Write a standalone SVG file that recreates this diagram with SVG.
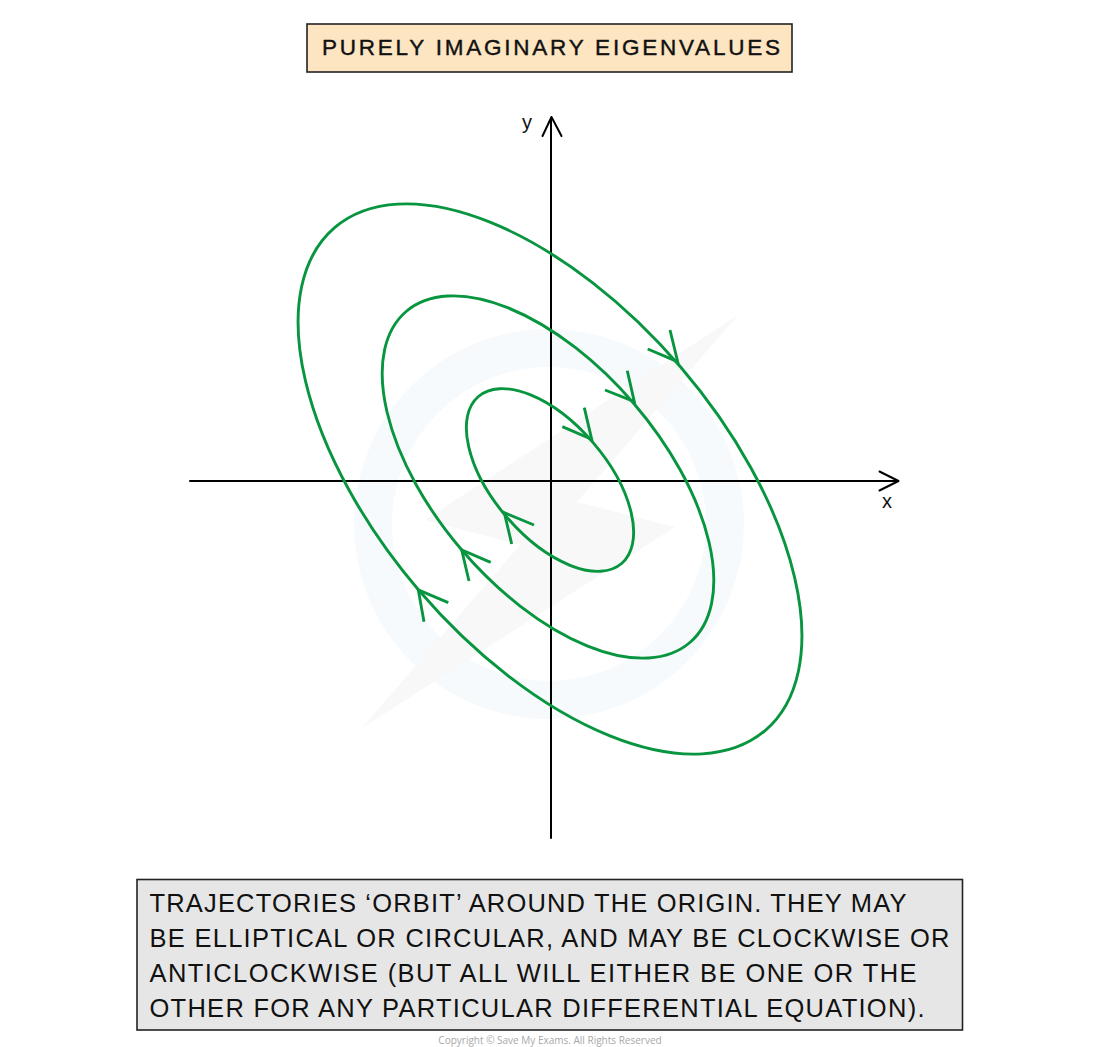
<svg xmlns="http://www.w3.org/2000/svg" width="1100" height="1047" viewBox="0 0 1100 1047">
  <style>
    .txt { font-family: "Liberation Sans", Arial, sans-serif; fill: #111; }
    .axis { stroke: #000; stroke-width: 2; fill: none; stroke-linecap: round; stroke-linejoin: round; }
    .orbit { stroke: #08953f; stroke-width: 2.9; fill: none; }
    .head { stroke: #08953f; stroke-width: 2.9; fill: none; stroke-linecap: butt; stroke-linejoin: miter; }
    .box { stroke: #222; stroke-width: 1.6; }
  </style>
  <rect x="0" y="0" width="1100" height="1047" fill="#ffffff"/>

  <g id="watermark">
    <circle cx="549" cy="524" r="176" fill="none" stroke="#f6fafc" stroke-width="38"/>
    <polygon points="738,315 425,520 520,545 362,728 675,527 577,502" fill="#f8f8f8"/>
  </g>

  <g id="title">
    <rect class="box" x="307" y="24" width="485" height="48" fill="#fde5c2"/>
    <text class="txt" x="322" y="54.5" font-size="22.5" stroke="#111" stroke-width="0.4" textLength="458" lengthAdjust="spacing">PURELY IMAGINARY EIGENVALUES</text>
  </g>

  <g id="axes">
    <line class="axis" x1="190" y1="481" x2="898" y2="481"/>
    <polyline class="axis" points="879.5,471.5 898.5,481 879.5,490.5"/>
    <line class="axis" x1="551" y1="838" x2="551" y2="118"/>
    <polyline class="axis" points="542.5,136 551.5,117 561.5,136"/>
    <text class="txt" x="522" y="129" font-size="20">y</text>
    <text class="txt" x="882" y="507.5" font-size="20">x</text>
  </g>

  <g id="orbit-outer">
    <ellipse class="orbit" cx="550" cy="479" rx="331" ry="172" transform="rotate(49.4 550 479)"/>
  </g>
  <g id="orbit-middle">
    <ellipse class="orbit" cx="548" cy="477" rx="218" ry="113" transform="rotate(49.4 548 477)"/>
  </g>
  <g id="orbit-inner">
    <ellipse class="orbit" cx="550" cy="480" rx="110" ry="57" transform="rotate(49.4 550 480)"/>
  </g>

  <g id="connectors">
    <polyline class="head" points="670,330 677.7,361.7 647.7,349"/>
    <polyline class="head" points="627.3,370.7 634.3,401.7 605,390"/>
    <polyline class="head" points="584.3,407.7 591.7,439.3 562.3,426.7"/>
    <polyline class="head" points="534,525 504.3,512.7 511.7,544"/>
    <polyline class="head" points="490.7,562.3 461.7,550 469,581"/>
    <polyline class="head" points="448.3,602.7 418.3,590 424,621.7"/>
  </g>

  <g id="caption">
    <rect class="box" x="137" y="879.5" width="825.5" height="150.5" fill="#e6e6e6"/>
    <text class="txt" x="149.5" y="912" font-size="25.5" textLength="757" lengthAdjust="spacing">TRAJECTORIES ‘ORBIT’ AROUND THE ORIGIN. THEY MAY</text>
    <text class="txt" x="149.5" y="947" font-size="25.5" textLength="800" lengthAdjust="spacing">BE ELLIPTICAL OR CIRCULAR, AND MAY BE CLOCKWISE OR</text>
    <text class="txt" x="149.5" y="982" font-size="25.5" textLength="767" lengthAdjust="spacing">ANTICLOCKWISE (BUT ALL WILL EITHER BE ONE OR THE</text>
    <text class="txt" x="149.5" y="1017" font-size="25.5" textLength="775" lengthAdjust="spacing">OTHER FOR ANY PARTICULAR DIFFERENTIAL EQUATION).</text>
  </g>

  <g id="copyright">
    <text x="550" y="1044" font-family="'Open Sans', 'Liberation Sans', sans-serif" font-size="10" fill="#a8a8a8" text-anchor="middle">Copyright © Save My Exams. All Rights Reserved</text>
  </g>
</svg>
